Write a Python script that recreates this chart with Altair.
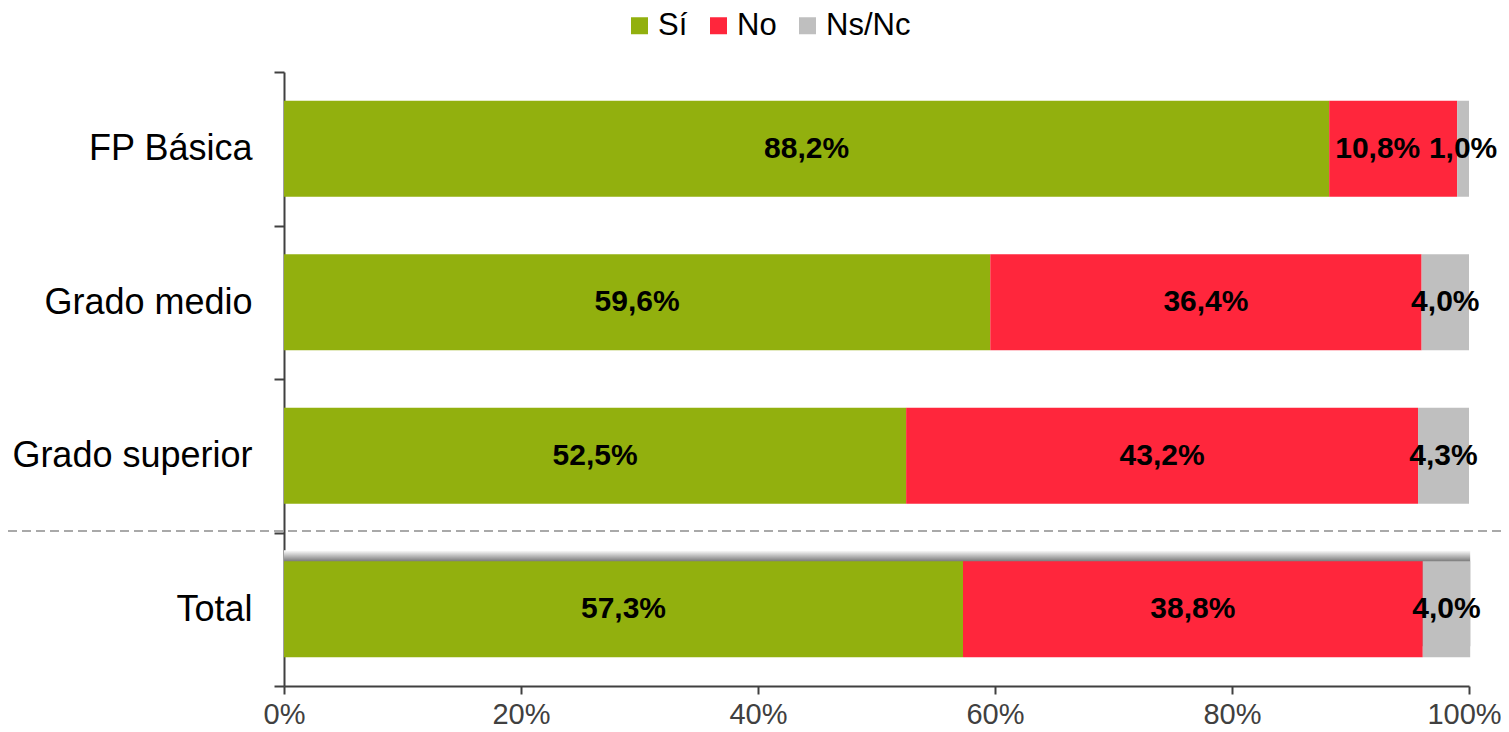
import altair as alt
import pandas as pd

categories = ["FP Básica", "Grado medio", "Grado superior", "Total"]
series = ["Sí", "No", "Ns/Nc"]
si_vals = [88.2, 59.6, 52.5, 57.3]
no_vals = [10.8, 36.4, 43.2, 38.8]
ns_vals = [1.0, 4.0, 4.3, 4.0]
colors = ["#92B00E", "#FF263C", "#BFBFBF"]
x_ticks = [0, 20, 40, 60, 80, 100]

rows = []
for i, c in enumerate(categories):
    for j, (s, vals) in enumerate(zip(series, [si_vals, no_vals, ns_vals])):
        rows.append({"cat": c, "serie": s, "value": vals[i], "ord": j})
df = pd.DataFrame(rows)

FONT = "Liberation Sans"
W, H = 1185, 614
BAND = 0.625

base = alt.Chart(df).transform_stack(
    stack="value", groupby=["cat"], as_=["x0", "x1"], sort=[alt.SortField("ord")]
).transform_calculate(
    mid="(datum.x0 + datum.x1) / 2 - ((datum.serie == 'No' && 100 - datum.x1 < 2) ? 1.3 : 0)",
    label="replace(format(datum.value, '.1f'), '.', ',') + '%'",
)

yscale = alt.Scale(paddingInner=0, paddingOuter=0)
yenc = alt.Y("cat:N", sort=categories, title=None, scale=yscale,
             axis=alt.Axis(labelFontSize=36, labelColor="black", labelFont=FONT,
                           labelLimit=0,
                           tickBand="extent", tickSize=10, tickColor="#404040",
                           tickWidth=2, domainColor="#404040", domainWidth=2,
                           labelPadding=22))
xscale = alt.Scale(domain=[0, 100], nice=False, clamp=False)

shadow = alt.Chart(pd.DataFrame({"cat": ["Total"], "v0": [0], "v1": [100.1]})).mark_bar(
    yOffset=-11, height=alt.RelativeBandSize(BAND),
    color=alt.Gradient(gradient="linear", x1=0, y1=0, x2=0, y2=1,
                       stops=[alt.GradientStop(color="#ffffff", offset=0),
                              alt.GradientStop(color="#808080", offset=0.11),
                              alt.GradientStop(color="#808080", offset=1)])
).encode(
    x=alt.X("v0:Q", scale=xscale),
    x2="v1:Q",
    y=alt.Y("cat:N", sort=categories, scale=yscale),
)

bars = base.mark_bar(height=alt.RelativeBandSize(BAND)).encode(
    x=alt.X("x0:Q", scale=xscale, title=None,
            axis=alt.Axis(values=x_ticks, labelExpr="datum.value + '%'",
                          grid=False, labelFontSize=29, labelColor="#404040",
                          labelFont=FONT, labelFlush=False,
                          labelOffset={"condition": {"test": "datum.value == 100", "value": -5},
                                       "value": 0},
                          tickSize=8, tickColor="#404040",
                          tickWidth=2, domainColor="#404040", domainWidth=2,
                          labelPadding=6)),
    x2="x1:Q",
    y=yenc,
    color=alt.Color("serie:N", sort=series,
                    scale=alt.Scale(domain=series, range=colors),
                    legend=alt.Legend(title=None, orient="none", direction="horizontal",
                                      legendX=340, legendY=-62,
                                      symbolType="square", symbolSize=289,
                                      symbolStrokeWidth=0, symbolOpacity=1,
                                      labelFontSize=31, labelFont=FONT,
                                      labelColor="black", columnPadding=15,
                                      labelOffset=3, padding=0)),
)

texts = base.mark_text(fontSize=30, fontWeight="bold", font=FONT, color="black").encode(
    x=alt.X("mid:Q", scale=xscale),
    y=alt.Y("cat:N", sort=categories, scale=yscale),
    text="label:N",
)

dash = alt.Chart(pd.DataFrame({"a": [0]})).mark_rule(
    strokeDash=[9, 5], color="#555555", strokeWidth=1.2
).encode(x=alt.value(-276), x2=alt.value(W + 32), y=alt.value(459))

chart = alt.layer(shadow, bars, texts, dash).properties(
    width=W, height=H,
    autosize=alt.AutoSizeParams(type="none"),
    padding={"left": 276, "top": 64, "right": 32, "bottom": 44},
).configure(font=FONT).configure_view(stroke=None)

chart.save("out.html", embed_options={"renderer": "svg", "actions": False})
